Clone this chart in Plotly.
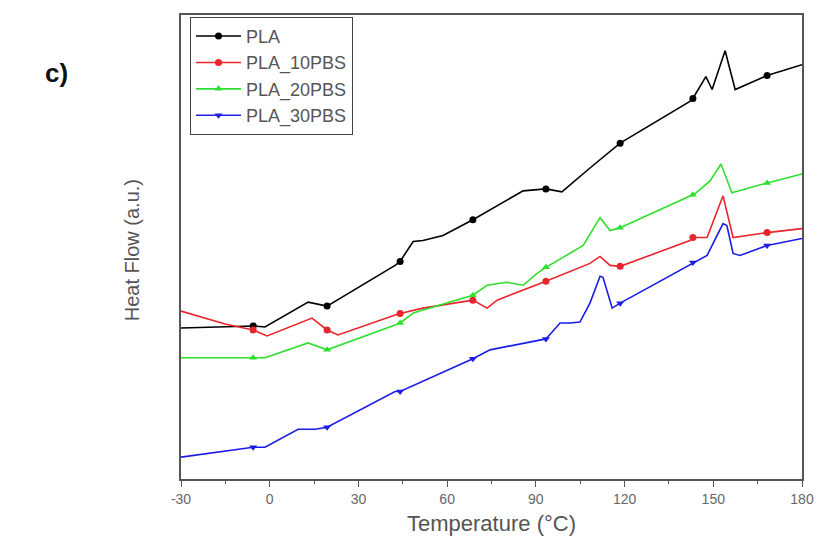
import numpy as np
import plotly.graph_objects as go

# ---- data (Temperature in °C, Heat flow in arbitrary units) ----
MARK_T = [-5.6, 19.4, 44.1, 68.7, 93.4, 118.5, 143.1, 168.2]

pla_T = [-30, -5.6, -1.6, 13.0, 19.4, 42.4, 44.1, 48.5, 51.8, 58.6, 68.7, 85.7, 93.4,
         98.8, 108.3, 115.1, 118.5, 142.1, 143.1, 147.5, 149.6, 154.0, 157.4, 168.2, 180]
pla_HF = [152, 154, 153, 178, 174, 215, 219, 239, 240, 245, 261, 290, 292,
          289, 313, 330, 338, 380, 383, 405, 392, 431, 392, 406, 417]

p10_T = [-30, -15.1, -5.6, -0.9, 14.3, 19.4, 23.1, 42.4, 43.4, 51.8, 68.7, 73.5, 76.9,
         93.4, 108.3, 111.7, 115.1, 118.5, 142.1, 143.1, 147.9, 153.3, 156.7, 168.2, 180]
p10_HF = [169, 156, 150, 144, 162, 150, 145, 165, 166, 172, 180, 172, 180,
          199, 217, 224, 215, 214, 240, 243, 243, 285, 243, 248, 252]

p20_T = [-30, -5.6, -1.6, 13.0, 19.4, 42.4, 44.1, 48.5, 68.7, 73.5, 80.2, 85.7, 90.4,
         93.4, 106.0, 111.7, 115.1, 118.5, 143.8, 148.9, 152.6, 156.3, 168.2, 180]
p20_HF = [122, 122, 122, 137, 130, 155, 157, 167, 185, 195, 198, 195, 207,
          213, 235, 263, 250, 253, 287, 300, 317, 288, 298, 307]

p30_T = [-30, -5.6, -1.6, 9.6, 15.3, 19.4, 42.4, 44.1, 68.7, 74.5, 93.4, 98.2, 101.6,
         104.9, 108.3, 111.7, 112.7, 115.8, 118.5, 143.8, 147.9, 153.3, 154.6, 156.7,
         159.0, 168.2, 180]
p30_HF = [22, 32, 32, 50, 50, 52, 88, 88, 121, 130, 141, 157, 157,
          158, 177, 204, 203, 172, 177, 219, 225, 257, 255, 227,
          225, 235, 242]

names = ["PLA", "PLA_10PBS", "PLA_20PBS", "PLA_30PBS"]
series_T = [pla_T, p10_T, p20_T, p30_T]
series_HF = [pla_HF, p10_HF, p20_HF, p30_HF]
colors = ["#000000", "#e8242c", "#2ee02e", "#1c1ce6"]
symbols = ["circle", "circle", "triangle-up", "triangle-down"]

X_TICKS = [-30, 0, 30, 60, 90, 120, 150, 180]

fig = go.Figure()
for name, T, HF, c, s in zip(names, series_T, series_HF, colors, symbols):
    fig.add_trace(go.Scatter(x=T, y=HF, mode="lines", line=dict(color=c, width=1.6),
                             showlegend=False, hoverinfo="skip"))
    my = np.interp(MARK_T, T, HF)
    fig.add_trace(go.Scatter(x=MARK_T, y=my, mode="markers",
                             marker=dict(color=c, symbol=s, size=7),
                             showlegend=False))
    fig.add_trace(go.Scatter(x=[None], y=[None], mode="lines+markers", name=name,
                             line=dict(color=c, width=1.6),
                             marker=dict(color=c, symbol=s, size=7)))

axcol = "#555555"
# page body has an 8px margin, so figure is sized/offset to compensate
fig.update_layout(
    width=816, height=539,
    margin=dict(l=173, r=22, t=5, b=68),
    paper_bgcolor="white", plot_bgcolor="white",
    font=dict(family="Arial, Liberation Sans, sans-serif", color="#444444"),
    legend=dict(x=0.0145, y=0.996, xanchor="left", yanchor="top",
                bordercolor="#444444", borderwidth=1, bgcolor="rgba(255,255,255,0)",
                font=dict(size=18, color="#555555"), tracegroupgap=0, itemwidth=45),
    xaxis=dict(range=[-30, 180], tickvals=X_TICKS, ticktext=[str(v) for v in X_TICKS],
               ticks="outside", ticklen=6, tickwidth=1.2, tickcolor=axcol,
               minor=dict(dtick=15, ticks="outside", ticklen=3, tickcolor=axcol),
               showline=True, linecolor=axcol, linewidth=1.5, mirror=True,
               showgrid=False, zeroline=False,
               tickfont=dict(size=14, color="#666666"),
               title=dict(text="Temperature (°C)", font=dict(size=22, color="#555555"),
                          standoff=10)),
    yaxis=dict(range=[0, 467], showticklabels=False, ticks="",
               showline=True, linecolor=axcol, linewidth=1.5, mirror=True,
               showgrid=False, zeroline=False),
    annotations=[
        dict(text="Heat Flow (a.u.)", textangle=-90, xref="paper", yref="paper",
             x=-0.0789, y=0.493, showarrow=False, xanchor="center", yanchor="middle",
             font=dict(size=20, color="#555555")),
        dict(text="<b>c)</b>", xref="paper", yref="paper", x=-0.2, y=0.874,
             showarrow=False, xanchor="center", yanchor="middle",
             font=dict(size=26, color="#111111")),
    ],
)

fig.write_html("out.html")
